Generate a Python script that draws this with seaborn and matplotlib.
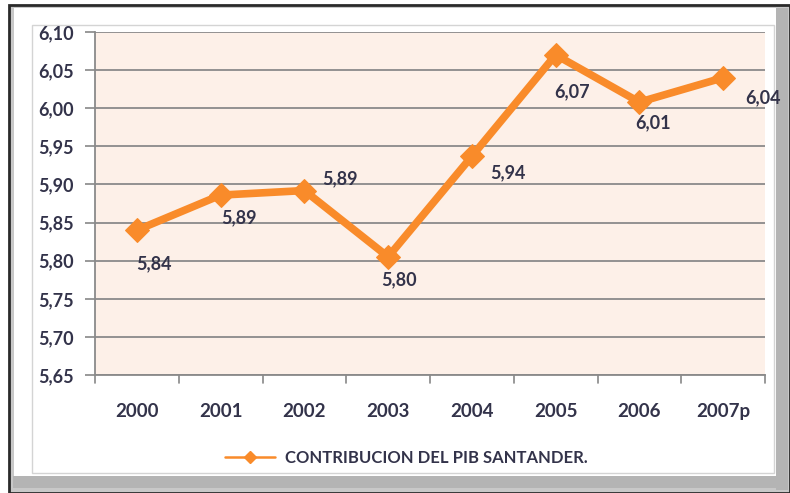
import matplotlib
matplotlib.use("Agg")
import matplotlib.pyplot as plt
import seaborn as sns
import pandas as pd
from matplotlib.patches import Rectangle
from matplotlib.lines import Line2D

years = ["2000", "2001", "2002", "2003", "2004", "2005", "2006", "2007p"]
values = [5.84, 5.886, 5.892, 5.805, 5.937, 6.07, 6.008, 6.04]
labels = ["5,84", "5,89", "5,89", "5,80", "5,94", "6,07", "6,01", "6,04"]
yticks = [5.65, 5.70, 5.75, 5.80, 5.85, 5.90, 5.95, 6.00, 6.05, 6.10]
series_name = "CONTRIBUCION DEL PIB SANTANDER."

sns.set_style("white")
plt.rcParams["font.family"] = ["Lato", "DejaVu Sans"]

W, H = 790, 493
fig = plt.figure(figsize=(W / 100, H / 100), dpi=100)
fig.patch.set_facecolor("white")

def px(x0, y0, x1, y1):
    return (x0 / W, 1 - y1 / H, (x1 - x0) / W, (y1 - y0) / H)

txt = "#33334a"

# frame / shadow
fa = fig.add_axes([0, 0, 1, 1], zorder=-5)
fa.set_xlim(0, W); fa.set_ylim(H, 0); fa.axis("off")
fa.add_patch(Rectangle((9, 5), W - 9, H - 5, facecolor="#c8c8c8", edgecolor="#2a2a2a", lw=2))
fa.add_patch(Rectangle((776, 8), 12, 482, facecolor="#b4b4b4", edgecolor="none"))
fa.add_patch(Rectangle((13, 476), 775, 12, facecolor="#b4b4b4", edgecolor="none"))
fa.add_patch(Rectangle((14, 8), 762, 468, facecolor="white", edgecolor="none"))
fa.add_patch(Rectangle((32, 25), 742, 448, facecolor="white", edgecolor="#d4d4d4", lw=1))

ax = fig.add_axes(px(95, 32, 765, 375))
df = pd.DataFrame({"year": years, "value": values})
ax.set_facecolor("#FDF0E8")
orange = "#F98B2A"
sns.lineplot(data=df, x="year", y="value", ax=ax, color=orange, lw=5.5,
             marker="D", markersize=12, markeredgecolor=orange, sort=False, zorder=5)

ax.set_ylim(5.65, 6.10)
ax.set_xlim(-0.5, len(years) - 0.5)
ax.set_yticks(yticks)
ax.set_yticklabels([f"{v:.2f}".replace(".", ",") for v in yticks],
                   fontsize=13, fontweight="bold", color=txt)
ax.set_xticks(range(len(years)))
ax.set_xticklabels(years, fontsize=13.5, fontweight="bold", color=txt)
ax.tick_params(axis="x", length=0, pad=20)
ax.tick_params(axis="y", length=7, width=1.2, color="#888888", pad=8, left=True)
ax.yaxis.grid(True, color="#8a8a8a", lw=1.3)
ax.set_axisbelow(True)
for b in [i - 0.5 for i in range(len(years) + 1)]:
    ax.plot([b, b], [0, -0.022], transform=ax.get_xaxis_transform(),
            color="#888888", lw=1.2, clip_on=False)
for s in ["top", "right"]:
    ax.spines[s].set_visible(False)
for s in ["left", "bottom"]:
    ax.spines[s].set_color("#8a8a8a")
    ax.spines[s].set_linewidth(1.3)
ax.set_xlabel("")
ax.set_ylabel("")

offsets = [(17, -34), (18, -23), (36, 12), (11, -23), (36, -17), (16, -37), (14, -21), (40, -20)]
for i, (v, lab, off) in enumerate(zip(values, labels, offsets)):
    ax.annotate(lab, (i, v), xytext=off, textcoords="offset pixels",
                ha="center", va="center", fontsize=13, fontweight="bold",
                color=txt, zorder=6)

handle = Line2D([], [], color=orange, lw=1.8, marker="D", markersize=6)
fig.legend([handle], [series_name], loc="center", bbox_to_anchor=(406 / W, 1 - 458 / H),
           frameon=False, prop={"size": 12, "weight": "bold"}, handlelength=3.0,
           handletextpad=0.6, labelcolor=txt)

fig.savefig("out.png", dpi=100)
